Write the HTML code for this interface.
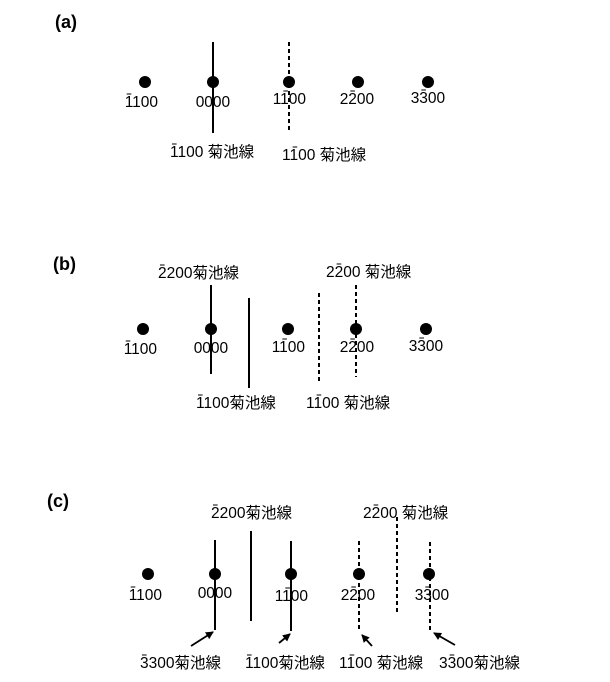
<!DOCTYPE html>
<html><head><meta charset="utf-8"><style>
html,body{margin:0;padding:0;background:#fff;}
svg{display:block;}
text{font-family:"Liberation Sans","Noto Sans CJK JP",sans-serif;font-size:15.5px;fill:#000;}
.h{font-weight:bold;font-size:18px;}
</style></head><body>
<svg id="s" width="610" height="682" xmlns="http://www.w3.org/2000/svg">
<defs><marker id="ar" markerWidth="8" markerHeight="8" refX="7" refY="4" orient="auto" markerUnits="userSpaceOnUse"><path d="M0,0 L8,4 L0,8 z" fill="#000"/></marker></defs>
<text class="h" x="55" y="28">(a)</text>
<text class="h" x="53" y="270">(b)</text>
<text class="h" x="47" y="507">(c)</text>
</svg>
<script>
var s=document.getElementById('s'),NS='http://www.w3.org/2000/svg',DW=8.62;
function el(t,a,txt){var e=document.createElementNS(NS,t);for(var k in a)e.setAttribute(k,a[k]);if(txt)e.textContent=txt;s.appendChild(e);return e;}
function dot(x,y){el('circle',{cx:x,cy:y,r:6,fill:'#000'});}
function line(x,y1,y2,d){var a={x1:x,y1:y1,x2:x,y2:y2,stroke:'#000','stroke-width':2};if(d)a['stroke-dasharray']='4,3';el('line',a);}
function lab(str,bar,x,y,suffix,gap){el('text',{x:x,y:y},str+(suffix?(gap?' ':'')+suffix:''));
 if(bar>=0)el('line',{x1:x+bar*DW+2,y1:y-13,x2:x+(bar+1)*DW-2,y2:y-13,stroke:'#000','stroke-width':1});}
function clab(str,bar,cx,y){lab(str,bar,cx-17.3,y);}
function arrow(x1,y1,x2,y2){el('line',{x1:x1,y1:y1,x2:x2,y2:y2,stroke:'#000','stroke-width':1.8,'marker-end':'url(#ar)'});}
// (a)
line(213,42,133);line(289,42,133,1);
[145,213,289,358,428].forEach(function(x){dot(x,82);});
clab('1100',0,142,107);clab('0000',-1,213,107);clab('1100',1,290,104);clab('2200',1,357,104);clab('3300',1,428,103);
lab('1100',0,170,157,'菊池線',1);lab('1100',1,282,160,'菊池線',1);
// (b)
line(211,285,374);line(249,298,388);line(319,293,384,1);line(356,285,377,1);
[143,211,288,356,426].forEach(function(x){dot(x,329);});
clab('1100',0,141,354);clab('0000',-1,211,353);clab('1100',1,289,352);clab('2200',1,357,352);clab('3300',1,426,351);
lab('2200',0,158,278,'菊池線');lab('2200',1,326,277,'菊池線',1);
lab('1100',0,196,408,'菊池線');lab('1100',1,306,408,'菊池線',1);
// (c)
line(215,540,630);line(251,531,621);line(291,541,631);line(359,541,631,1);line(397,517,612,1);line(430,542,632,1);
[148,215,291,359,429].forEach(function(x){dot(x,574);});
clab('1100',0,146,600);clab('0000',-1,215,598);clab('1100',1,292,601);clab('2200',1,358,600);clab('3300',1,432,600);
lab('2200',0,211,518,'菊池線');lab('2200',1,363,518,'菊池線',1);
lab('3300',0,140,668,'菊池線');lab('1100',0,245,668,'菊池線');lab('1100',1,339,668,'菊池線',1);lab('3300',1,439,668,'菊池線');
arrow(191,646,213,632);arrow(279,643,290,634);arrow(372,646,362,635);arrow(455,645,434,633);
</script>
</body></html>
